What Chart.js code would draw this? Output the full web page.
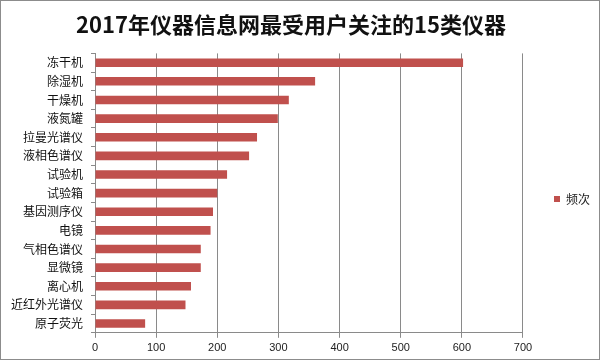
<!DOCTYPE html>
<html>
<head>
<meta charset="utf-8">
<script src="https://cdn.jsdelivr.net/npm/chart.js@4/dist/chart.umd.min.js"></script>
<style>
  html, body { margin: 0; padding: 0; background: #fff; }
  #wrap { width: 600px; height: 360px; box-sizing: border-box; border: 1px solid #8c8c8c; position: relative; }
  canvas { display: block; }
</style>
</head>
<body>
<div id="wrap"><canvas id="c" width="598" height="358"></canvas></div>
<script>
const titleText = '2017年仪器信息网最受用户关注的15类仪器';
const categories = ['冻干机','除湿机','干燥机','液氮罐','拉曼光谱仪','液相色谱仪','试验机','试验箱','基因测序仪','电镜','气相色谱仪','显微镜','离心机','近红外光谱仪','原子荧光'];
const seriesName = '频次';
const values = [602, 360, 317, 299, 265, 252, 216, 200, 193, 189, 173, 173, 157, 148, 82];
const xTicks = [0, 100, 200, 300, 400, 500, 600, 700];

const legendShift = {
  id: 'legendShift',
  afterLayout(chart) {
    const l = chart.legend;
    if (l) { l.top += 19; l.bottom += 19; l.left += 21; l.right += 21; }
  }
};

new Chart(document.getElementById('c'), {
  type: 'bar',
  data: {
    labels: categories,
    datasets: [{
      label: seriesName,
      data: values,
      backgroundColor: '#C0504D',
      borderWidth: 0,
      barPercentage: 0.46,
      categoryPercentage: 1
    }]
  },
  options: {
    indexAxis: 'y',
    responsive: false,
    animation: false,
    layout: { padding: { left: 2, right: 20, top: 0, bottom: 0 } },
    plugins: {
      title: {
        display: true,
        text: titleText,
        color: '#111',
        font: { family: '"Noto Sans CJK SC", sans-serif', size: 22, weight: 'bold' },
        padding: { top: 10, bottom: 16 }
      },
      legend: {
        position: 'right',
        align: 'center',
        labels: {
          boxWidth: 6,
          boxHeight: 6,
          padding: 10,
          color: '#222',
          font: { family: '"Noto Sans CJK SC", sans-serif', size: 12 }
        }
      },
      tooltip: { enabled: false }
    },
    scales: {
      x: {
        min: 0,
        max: 700,
        afterBuildTicks(axis) { axis.ticks = xTicks.map(v => ({ value: v })); },
        grid: { color: '#8a8a8a', tickLength: 5, lineWidth: 1 },
        border: { color: '#8a8a8a' },
        ticks: {
          color: '#222',
          padding: 4,
          font: { family: '"Liberation Sans", sans-serif', size: 11 }
        }
      },
      y: {
        grid: { drawOnChartArea: false, color: '#8a8a8a', tickLength: 4, offset: true },
        border: { color: '#8a8a8a' },
        ticks: {
          color: '#111',
          padding: 8,
          autoSkip: false,
          font: { family: '"Noto Sans CJK SC", sans-serif', size: 12 }
        }
      }
    }
  },
  plugins: [legendShift]
});
</script>
</body>
</html>
